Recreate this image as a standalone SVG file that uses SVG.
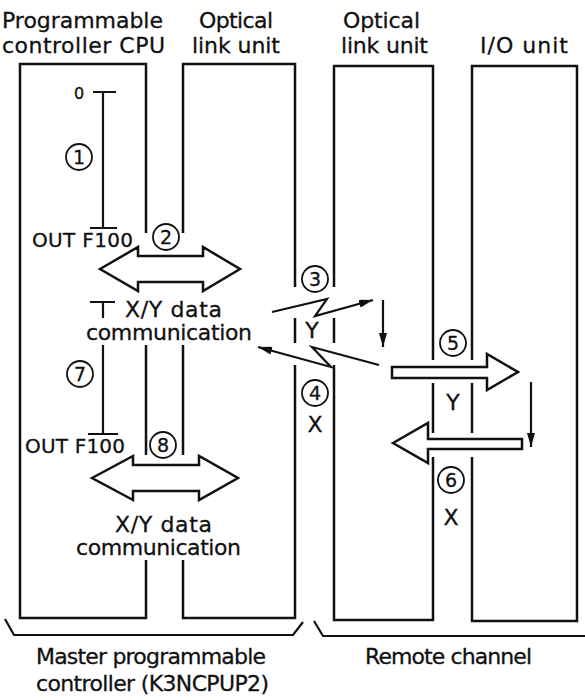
<svg xmlns="http://www.w3.org/2000/svg" width="585" height="700" viewBox="0 0 585 700">
<defs>
<style>
.box{fill:none;stroke:#111;stroke-width:2.5;stroke-linejoin:miter}
.ln{fill:none;stroke:#111;stroke-width:2.2}
.big{fill:#fff;stroke:#111;stroke-width:2.5;stroke-linejoin:miter}
.t{font-family:"DejaVu Sans","Liberation Sans",sans-serif;font-size:22px;fill:#111;stroke:#111;stroke-width:0.3}
.tm{font-family:"DejaVu Sans","Liberation Sans",sans-serif;font-size:20px;fill:#111;stroke:#111;stroke-width:0.3}
.ts{font-family:"DejaVu Sans","Liberation Sans",sans-serif;font-size:16px;fill:#111;stroke:#111;stroke-width:0.3}
.cn circle{fill:none;stroke:#111;stroke-width:1.8}
.cn text{font-family:"DejaVu Sans","Liberation Sans",sans-serif;font-size:19px;fill:#111;stroke:#111;stroke-width:0.3;text-anchor:middle}
</style>
<marker id="ah" viewBox="0 0 14 8" refX="14" refY="4" markerWidth="14" markerHeight="8" orient="auto" markerUnits="userSpaceOnUse"><path d="M0,0 L14,4 L0,8 z" fill="#111"/></marker>
</defs>
<rect width="585" height="700" fill="#fff"/>

<g id="headers">
<text class="t" x="2" y="28" textLength="161">Programmable</text>
<text class="t" x="2" y="53" textLength="163">controller CPU</text>
<text class="t" x="199" y="28" textLength="74">Optical</text>
<text class="t" x="192" y="53" textLength="88">link unit</text>
<text class="t" x="343" y="28" textLength="77">Optical</text>
<text class="t" x="341" y="53" textLength="87">link unit</text>
<text class="t" x="480" y="53" textLength="88">I/O unit</text>
</g>

<g id="cpu">
<path class="box" d="M146,233 V64 H20 V618 H146 V560 M146,345 V455"/>
<path class="ln" d="M93,92 H116 M103,92 V228 M90,228 H117"/>
<text class="ts" x="74" y="99">0</text>
<path class="ln" d="M90,302 H115 M103,302 V318 M103,345 V434 M88,434 H118"/>
<text class="tm" x="32" y="247" textLength="101">OUT F100</text>
<text class="tm" x="25" y="453" textLength="100">OUT F100</text>
</g>

<g id="master-optical">
<path class="box" d="M183,233 V64 H295 V287 M295,318 V343 M295,365 V618 H183 V560 M183,345 V455"/>
</g>

<g id="remote-optical">
<path class="box" d="M334,287 V66 H433 V360 M433,383 V433 M433,457 V620 H334 V365 M334,318 V343"/>
</g>

<g id="io-unit">
<path class="box" d="M472,360 V66 H577 V621 H472 V457 M472,383 V433"/>
</g>

<g id="labels">
<text class="t" x="125" y="317" textLength="97">X/Y data</text>
<text class="t" x="86" y="340" textLength="166">communication</text>
<text class="t" x="115" y="532" textLength="97">X/Y data</text>
<text class="t" x="76" y="555" textLength="165">communication</text>
<text class="t" x="312" y="338" text-anchor="middle">Y</text>
<text class="t" x="315" y="432" text-anchor="middle">X</text>
<text class="t" x="453" y="410" text-anchor="middle">Y</text>
<text class="t" x="451" y="525" text-anchor="middle">X</text>
</g>

<g id="circled" class="cn">
<circle cx="79" cy="157" r="13"/><text x="79" y="164">1</text>
<circle cx="166" cy="237" r="13"/><text x="166" y="244">2</text>
<circle cx="315" cy="279" r="13"/><text x="315" y="286">3</text>
<circle cx="315" cy="393" r="13"/><text x="315" y="400">4</text>
<circle cx="453" cy="343" r="13"/><text x="453" y="350">5</text>
<circle cx="451" cy="480" r="13"/><text x="451" y="487">6</text>
<circle cx="80" cy="374" r="13"/><text x="80" y="381">7</text>
<circle cx="163" cy="445" r="13"/><text x="163" y="452">8</text>
</g>

<g id="connectors">
<polygon class="big" points="100,269 138,247 138,256 203,256 203,247 240,269 203,291 203,282 138,282 138,291"/>
<polygon class="big" points="92,478 133,456 133,465 199,465 199,456 238,478 199,500 199,491 133,491 133,500"/>
<polygon class="big" points="392,367 487,367 487,354 518,372 487,390 487,378 392,378"/>
<polygon class="big" points="393,443 428,423 428,439 522,439 522,449 428,449 428,463"/>
<polyline class="ln" points="272,312 327,299 315,316 373,300" marker-end="url(#ah)"/>
<polyline class="ln" points="379,365 312,347 331,367 258,347" marker-end="url(#ah)"/>
<line class="ln" x1="383" y1="300" x2="383" y2="347" marker-end="url(#ah)"/>
<line class="ln" x1="531" y1="382" x2="531" y2="447" marker-end="url(#ah)"/>
</g>

<g id="braces">
<polyline class="ln" points="5,619 14,635 293,635 303,622"/>
<polyline class="ln" points="314,621 323,636 585,636"/>
<text class="t" x="36" y="664" textLength="230">Master programmable</text>
<text class="t" x="36" y="691" textLength="233">controller (K3NCPUP2)</text>
<text class="t" x="365" y="664" textLength="167">Remote channel</text>
</g>
</svg>
